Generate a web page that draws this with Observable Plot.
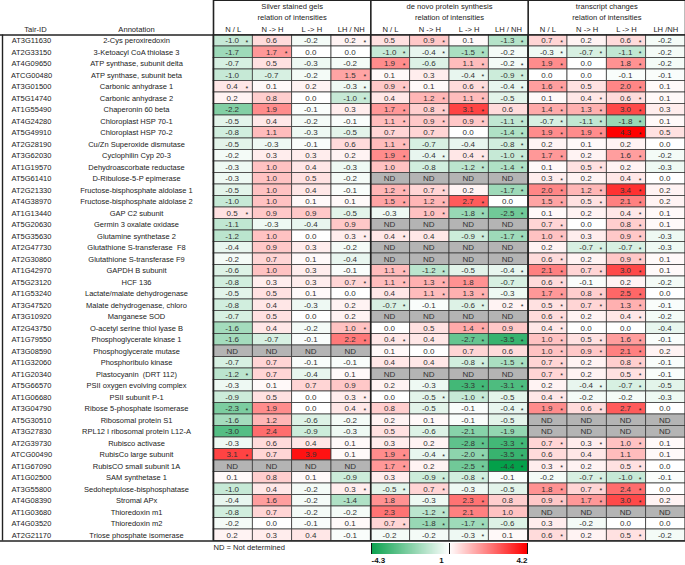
<!DOCTYPE html>
<html><head><meta charset="utf-8">
<script src="https://cdn.jsdelivr.net/npm/d3@7"></script>
<script src="https://cdn.jsdelivr.net/npm/@observablehq/plot@0.6"></script>
<style>
body{margin:0;background:#fff;font-family:"Liberation Sans",Arial,sans-serif;}
#wrap{position:relative;width:685px;height:565px;overflow:hidden;}
#legend{position:absolute;left:363px;top:543px;}
</style></head><body><div id="wrap"><div id="chart"></div><div id="legend"></div></div>
<script>
const tairIds = ["AT3G11630","AT2G33150","AT4G09650","ATCG00480","AT3G01500","AT5G14740","AT1G55490","AT4G24280","AT5G49910","AT2G28190","AT3G62030","AT1G19570","AT5G61410","AT2G21330","AT4G38970","AT1G13440","AT5G20630","AT5G35630","AT2G47730","AT2G30860","AT1G42970","AT5G23120","AT1G53240","AT3G47520","AT3G10920","AT2G43750","AT1G79550","AT3G08590","AT1G32060","AT1G20340","AT5G66570","AT1G06680","AT3G04790","AT5G30510","AT3G27830","AT2G39730","ATCG00490","AT1G67090","AT1G02500","AT3G55800","AT4G08390","AT1G03680","AT4G03520","AT2G21170"];
const annotations = ["2-Cys peroxiredoxin","3-Ketoacyl CoA thiolase 3","ATP synthase, subunit delta","ATP synthase, subunit beta","Carbonic anhydrase 1","Carbonic anhydrase 2","Chaperonin 60 beta","Chloroplast HSP 70-1","Chloroplast HSP 70-2","Cu/Zn Superoxide dismutase","Cyclophilin Cyp 20-3","Dehydroascorbate reductase","D-Ribulose-5-P epimerase","Fructose-bisphosphate aldolase 1","Fructose-bisphosphate aldolase 2","GAP C2 subunit","Germin 3 oxalate oxidase","Glutamine synthetase 2","Glutathione S-transferase  F8","Glutathione S-transferase F9","GAPDH B subunit","HCF 136","Lactate/malate dehydrogenase","Malate dehydrogenase, chloro","Manganese SOD","O-acetyl serine thiol lyase B","Phosphoglycerate kinase 1","Phosphoglycerate mutase","Phosphoribulo kinase","Plastocyanin  (DRT 112)","PSII oxygen evolving complex","PSII subunit P-1","Ribose 5-phosphate isomerase","Ribosomal protein S1","RPL12 I ribosomal protein L12-A","Rubisco activase","RubisCo large subunit","RubisCO small subunit 1A","SAM synthetase 1","Sedoheptulose-bisphosphatase","Stromal APx","Thioredoxin m1","Thioredoxin m2","Triose phosphate isomerase"];
const groupTitles = ["Silver stained gels","de novo protein synthesis","transcript changes"];
const groupSubtitle = "relation of intensities";
const columnLabels = ["N / L","N -> H","L -> H","LH / NH","N / L","N -> H","L -> H","LH / NH","N / L","N -> H","L -> H","LH /NH"];

// null = ND (not determined)
const silver = [[-1.0,0.6,-0.2,0.2],[-1.7,1.7,0.0,0.0],[-0.7,0.5,-0.3,-0.2],[-1.0,-0.7,-0.2,1.5],[0.4,0.1,0.2,-0.3],[0.2,0.8,0.0,-1.0],[-2.2,1.9,-0.1,0.3],[-0.5,0.4,-0.2,-0.1],[-0.8,1.1,-0.3,-0.5],[-0.5,-0.3,-0.1,0.6],[-0.2,0.3,0.3,0.2],[-0.3,1.0,0.4,-0.3],[-0.3,1.0,0.5,-0.2],[-0.5,1.0,0.4,-0.1],[-1.0,1.0,0.1,0.1],[0.5,0.9,0.9,-0.5],[-1.1,-0.3,-0.4,0.9],[-1.2,1.0,0.0,0.3],[-0.4,0.9,0.3,-0.2],[-0.2,0.7,0.1,-0.4],[-0.6,1.0,0.3,-0.1],[-0.8,0.3,0.3,0.7],[-0.5,0.5,0.1,0.0],[-0.8,0.4,-0.3,0.2],[-0.7,0.5,0.0,0.2],[-1.6,0.4,-0.2,1.0],[-1.6,-0.7,-0.1,2.2],null,[-0.7,0.7,-0.1,-0.1],[-1.2,0.7,-0.4,0.1],[-0.3,0.1,0.7,0.9],[-0.9,0.5,0.0,0.3],[-2.3,1.9,0.0,0.4],[-1.6,1.2,-0.6,-0.2],[-3.0,2.4,-0.9,-0.3],[-0.3,0.6,0.4,0.1],[3.1,0.7,3.9,0.1],null,[0.1,0.8,0.1,-0.9],[-1.0,0.4,-0.2,0.3],[-0.4,1.6,-0.2,-1.4],[-0.8,0.7,-0.2,-0.2],[-0.2,0.0,-0.1,0.1],[0.2,0.3,0.4,-0.1]];
const silverStars = ["1001","0100","0000","0001","1001","0001","0000","0000","0000","0000","0000","0000","0000","0000","0000","1000","0000","0001","0000","0000","0000","0001","0000","0000","0000","0001","0001","0000","0000","1000","0000","0001","1001","0000","0000","0000","1000","0000","0000","0001","0000","0000","0000","0000"];

const denovo = [[0.5,0.9,0.1,-1.3],[-1.0,-0.4,-1.5,-0.2],[1.9,-0.6,1.1,-0.2],[0.1,0.3,-0.4,-0.9],[0.9,0.1,0.6,-0.4],[0.4,1.2,1.1,-0.5],[1.7,0.8,3.1,0.6],[1.1,0.9,0.9,-1.1],[0.7,0.7,0.0,-1.4],[1.1,-0.7,-0.4,-0.8],[1.9,-0.4,0.4,-1.0],[1.0,-0.8,-1.2,-1.4],null,[1.2,0.7,0.2,-1.7],[1.5,1.2,2.7,0.0],[-0.3,1.0,-1.8,-2.5],null,[0.4,0.4,-0.9,-1.7],null,null,[1.1,-1.2,-0.5,-0.4],[1.1,1.3,1.8,-0.7],[0.4,1.1,1.3,-0.3],[-0.7,-0.1,-0.6,0.2],null,[0.0,0.5,1.4,0.9],[0.4,0.4,-2.7,-3.5],[0.1,0.0,0.7,0.6],[0.4,0.4,-0.8,-1.5],null,[0.2,-0.3,-3.3,-3.1],[0.0,-0.5,-1.0,-0.5],[0.8,-0.5,-0.1,-0.4],[0.2,0.1,-0.1,-0.5],[0.5,-0.6,-2.1,-1.9],[0.3,0.2,-2.8,-3.3],[1.9,-0.4,-2.0,-3.5],[1.7,0.2,-2.5,-4.4],[0.3,-0.9,-0.8,-0.1],[-0.5,0.7,-0.3,-0.5],[1.8,-0.3,2.3,0.8],[2.3,-1.2,2.1,1.0],[0.7,-1.8,-1.7,-0.6],[-0.2,-0.2,-0.3,0.1]];
const denovoStars = ["0101","1110","1011","0011","1011","0110","1110","1111","0001","1001","1111","0011","0000","1101","1110","0111","0000","1011","0000","0000","1101","1100","0110","1011","0000","0010","1011","0000","0011","0000","0011","0110","0001","0000","0000","0011","1111","1011","0110","1100","0010","0100","1110","0010"];

const transcript = [[0.7,0.2,0.6,-0.2],[-0.3,-0.7,-1.1,-0.2],[1.9,0.0,1.8,-0.2],[0.0,0.0,-0.1,-0.1],[1.6,0.5,2.0,0.1],[0.1,0.4,0.6,0.1],[1.4,1.3,3.0,0.3],[-0.7,-1.1,-1.8,0.1],[1.9,1.9,4.3,0.5],[0.2,0.1,0.2,0.0],[1.7,0.2,1.6,-0.2],[0.1,0.5,0.2,-0.3],[0.3,0.2,0.4,0.0],[2.0,1.2,3.4,0.2],[1.5,0.5,2.1,0.2],[0.1,0.2,0.4,0.1],[0.7,0.0,0.8,0.1],[1.0,0.3,0.9,-0.3],[0.2,-0.7,-0.7,-0.3],[0.6,0.2,0.9,0.1],[2.1,0.7,3.0,0.1],[0.6,-0.1,0.2,-0.2],[1.7,0.8,2.5,0.0],[0.5,0.7,1.3,-0.1],[0.6,0.2,0.4,-0.2],[0.4,0.0,0.0,-0.4],[1.0,0.5,1.6,-0.1],[1.0,0.9,2.1,0.2],[0.7,0.2,0.8,-0.1],[0.7,0.2,0.5,-0.1],[0.2,-0.4,-0.7,-0.5],[0.4,-0.2,-0.2,-0.3],[1.9,0.6,2.7,0.0],null,null,[0.7,0.3,1.0,0.1],[0.6,0.4,1.1,0.1],[0.3,0.2,0.5,0.0],[-0.2,-0.7,-1.0,-0.1],[1.8,0.7,2.4,0.0],[0.9,1.7,3.0,0.2],null,[0.3,-0.2,0.0,0.0],[0.6,0.2,0.5,-0.2]];
const transcriptStars = ["1010","1110","1010","0000","1010","0110","1110","1110","1110","0000","1010","0100","1010","1110","1110","0010","1010","1010","0110","1010","1110","1000","1110","1110","1010","1000","1110","1110","1010","1010","0110","1000","1110","0000","0000","1110","0000","1010","0110","1110","1110","0000","0000","1010"];

const colorDomain = [-4.3, 0, 4.2];
const colorRange = ["#0aa24e", "#ffffff", "#ff0000"];
const legendTicks = [-4.3, 0, 4.2];
const legendTickLabels = ["-4.3", "1", "4.2"];
const ndNote = "ND = Not determined";

// build table
const groups = [[silver, silverStars], [denovo, denovoStars], [transcript, transcriptStars]];
const cells = [];
tairIds.forEach((id, r) => {
  groups.forEach(([vals, stars], g) => {
    for (let c = 0; c < 4; c++) {
      const v = vals[r] == null ? null : vals[r][c];
      cells.push({row: r, col: g * 4 + c, v, star: stars[r][c] === "1"});
    }
  });
});
const rowData = tairIds.map((id, i) => ({id, ann: annotations[i], row: i}));

const font = "'Liberation Sans', Arial, Helvetica, sans-serif";
const LEFT = -213 / 39.333; // label area in column units
const xTair = LEFT + 31 / 39.333;
const xAnn = LEFT + 136 / 39.333;

const chart = Plot.plot({
  width: 685, height: 565,
  marginTop: 0, marginRight: 0, marginBottom: 24.5, marginLeft: 0,
  x: {domain: [LEFT, 12], axis: null},
  y: {domain: [-3, 44], reverse: true, axis: null},
  color: {type: "linear", domain: colorDomain, range: colorRange, interpolate: "rgb"},
  style: {fontFamily: font, background: "#fff", overflow: "visible"},
  marks: [
    Plot.rect(cells.filter(d => d.v != null), {x1: "col", x2: d => d.col + 1, y1: "row", y2: d => d.row + 1, fill: "v", stroke: "#3c3c3c", strokeWidth: 0.8}),
    Plot.rect(cells.filter(d => d.v == null), {x1: "col", x2: d => d.col + 1, y1: "row", y2: d => d.row + 1, fill: "#b4b4b4", stroke: "#3c3c3c", strokeWidth: 0.8}),
    Plot.text(cells, {x: d => d.col + 0.5, y: d => d.row + 0.5, text: d => d.v == null ? "ND" : d.v.toFixed(1), fontSize: 8, fill: "#333", dx: -1}),
    Plot.text(cells.filter(d => d.star), {x: d => d.col + 1, y: d => d.row + 0.5, text: d => "*", dx: -6, dy: 1.8, fontSize: 7, fill: "#222"}),
    // borders
    Plot.ruleX([0, 4, 8, 12], {y1: -3, y2: 44, stroke: "#222", strokeWidth: 1.6}),
    Plot.ruleY([-3], {x1: 0, x2: 12, stroke: "#222", strokeWidth: 1.2}),
    Plot.ruleY([0, 44], {x1: LEFT, x2: 12, stroke: "#222", strokeWidth: 1.4}),
    Plot.ruleX([LEFT + 2 / 39.333], {y1: 0, y2: 44, stroke: "#222", strokeWidth: 1.4}),
    // headers
    Plot.text(groupTitles, {x: (d, i) => i * 4 + 2, y: -2.47, text: d => d, fontSize: 7.6, fill: "#222"}),
    Plot.text(groupTitles, {x: (d, i) => i * 4 + 2, y: -1.55, text: d => groupSubtitle, fontSize: 7.6, fill: "#222"}),
    Plot.text(columnLabels, {x: (d, i) => i + 0.5, y: -0.5, text: d => d, fontSize: 7.6, fill: "#222"}),
    Plot.text(["Tair-ID"], {x: xTair + 0.1, y: -0.5, text: d => d, fontSize: 7.6, fill: "#222"}),
    Plot.text(["Annotation"], {x: xAnn, y: -0.5, text: d => d, fontSize: 7.6, fill: "#222"}),
    // row labels
    Plot.text(rowData, {x: xTair, y: d => d.row + 0.5, text: "id", fontSize: 7.5, fill: "#222"}),
    Plot.text(rowData, {x: xAnn, y: d => d.row + 0.5, text: "ann", fontSize: 7.5, fill: "#222"}),
    Plot.text([ndNote], {x: 0, y: 44.6, text: d => d, textAnchor: "start", fontSize: 7.6, fill: "#222"})
  ]
});
document.getElementById("chart").appendChild(chart);

const leg = Plot.legend({
  color: {type: "linear", domain: colorDomain, range: colorRange, interpolate: "rgb"},
  legend: "ramp",
  width: 172, height: 25, marginTop: 0, marginBottom: 14, marginLeft: 8, marginRight: 8,
  ticks: legendTicks, tickSize: 0,
  tickFormat: d => legendTickLabels[legendTicks.indexOf(d)],
  style: {fontFamily: font, fontSize: "8px", fontWeight: "bold", color: "#111", overflow: "visible"}
});
document.getElementById("legend").appendChild(leg);
const tickTexts = leg.querySelectorAll(".tick text");
if (tickTexts.length === 3) {
  tickTexts[0].setAttribute("text-anchor", "start");
  tickTexts[2].setAttribute("text-anchor", "end");
  tickTexts[1].setAttribute("dx", "-8");
}
leg.querySelectorAll(".domain").forEach(e => e.remove());
</script>
</body></html>
